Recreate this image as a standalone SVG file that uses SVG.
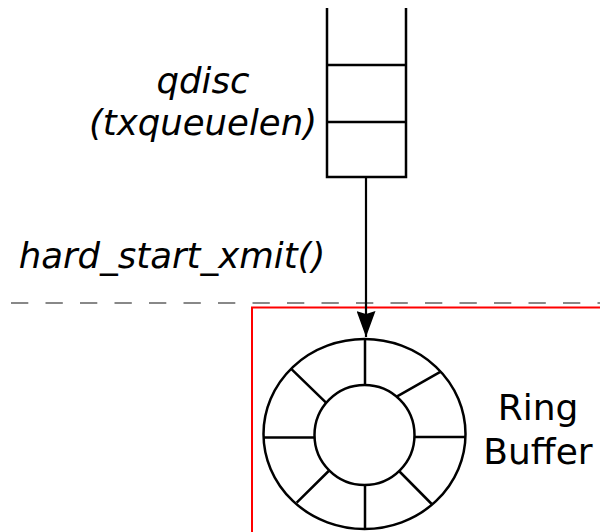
<svg xmlns="http://www.w3.org/2000/svg" width="600" height="532" viewBox="0 0 600 532">
<defs>
<style>
.ln{stroke:#000;stroke-width:2.5;fill:none}
.lbl{font-family:"DejaVu Sans",sans-serif;font-size:35.5px;fill:#000}
.big{font-size:36px}
.it{font-style:oblique}
</style>
<marker id="ah" markerWidth="26" markerHeight="19" refX="26" refY="9.5" orient="auto" markerUnits="userSpaceOnUse" viewBox="0 0 26 19">
<path d="M0,0 L26,9.5 L0,19 L3,9.5 Z" fill="#000"/>
</marker>
</defs>
<rect width="600" height="532" fill="#fff"/>
<g id="boundary">
<line x1="0" y1="303" x2="600" y2="303" stroke="#888" stroke-width="2" stroke-dasharray="17.3 17.2" stroke-dashoffset="23.5"/>
</g>
<g id="driver">
<rect x="252" y="307.5" width="360" height="240" fill="none" stroke="#f00" stroke-width="2"/>
</g>
<g id="qdisc">
<path class="ln" d="M327,8 V177 H406 V8 M327,65 H406 M327,122 H406"/>
<text class="lbl it" x="203" y="93" text-anchor="middle">qdisc</text>
<text class="lbl it" x="203" y="135" text-anchor="middle">(txqueuelen)</text>
</g>
<g id="ring">
<ellipse class="ln" cx="364.5" cy="434" rx="101" ry="95"/>
<circle class="ln" cx="364.5" cy="435" r="50"/>
<path class="ln" d="M365,338 V386 M365,484 V528 M264,437.5 H314 M415,437 H465 M290.7,368.3 L326,402.7 M440.7,371.7 L396.7,396.7 M296.7,502.7 L328.7,471 M431.7,504 L399,471"/>
<text class="lbl big" x="538" y="420" text-anchor="middle">Ring</text>
<text class="lbl big" x="538" y="464" text-anchor="middle">Buffer</text>
</g>
<g id="connectors">
<line x1="366" y1="177" x2="366" y2="337" stroke="#000" stroke-width="2.2" marker-end="url(#ah)"/>
<text class="lbl it" x="172" y="268" text-anchor="middle">hard_start_xmit()</text>
</g>
</svg>
